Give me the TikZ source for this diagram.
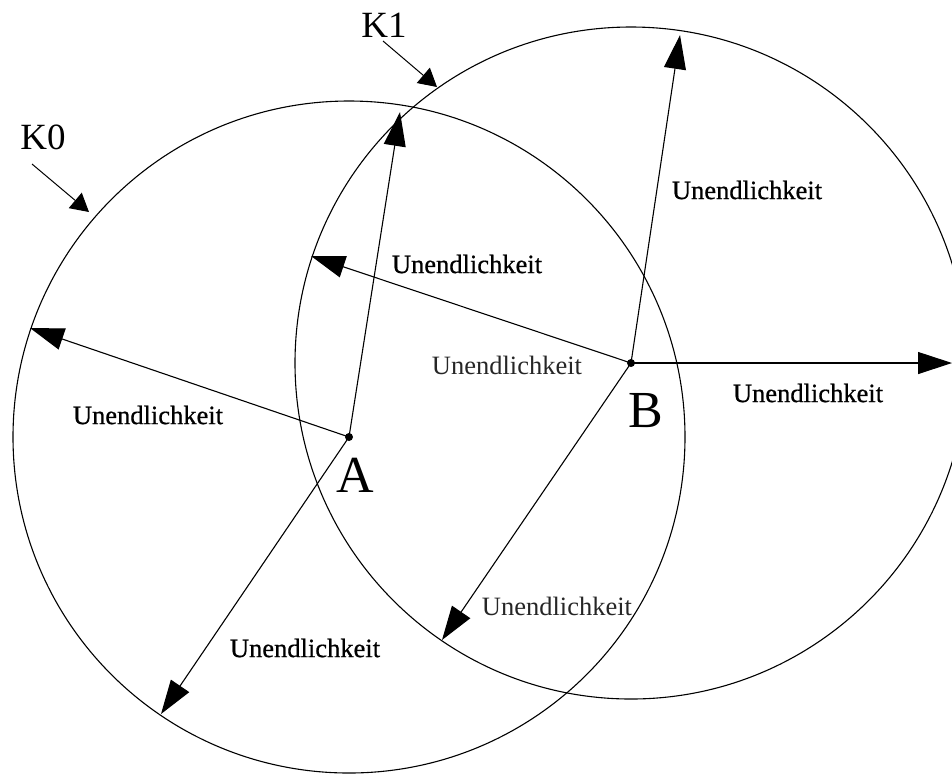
\documentclass[tikz,border=0pt]{standalone}
\usepackage{fontspec}
\setmainfont{Liberation Serif}
\newfontfamily\heavyserif[FakeBold=0.6]{Liberation Serif}
\usetikzlibrary{arrows.meta}

\tikzset{
  ray/.style={-{Triangle[length=17pt,width=11pt]}, line width=0.55pt},
  pointer/.style={-{Triangle[length=9pt,width=10pt]}, line width=0.5pt},
  rim/.style={line width=0.55pt},
  lbl/.style={font=\heavyserif\fontsize{13.25}{15}\selectfont, inner sep=0pt},
  lbllight/.style={font=\fontsize{13.25}{15}\selectfont, inner sep=0pt, text=black!85},
  big/.style={font=\fontsize{26}{30}\selectfont, inner sep=0pt},
  kname/.style={font=\fontsize{18.5}{22}\selectfont, inner sep=0pt}
}

\begin{document}
\begin{tikzpicture}[x=0.5pt,y=-0.5pt]
\useasboundingbox (0,0) rectangle (952,773);
% centres of the two circles
\coordinate (A) at (349,437);
\coordinate (B) at (631,363);
\draw[rim] (A) circle[radius=168pt];
\draw[rim] (B) circle[radius=168pt];
\fill (A) circle[radius=2pt];
\fill (B) circle[radius=2pt];
\node[big] (nA) at (355,475) {A};
\node[big] (nB) at (646,411) {B};

% ends of the rays
\coordinate (a1) at (400,112);
\coordinate (a2) at (30,328);
\coordinate (a3) at (161,714);
\coordinate (b1) at (680,35);
\coordinate (b2) at (311,256);
\coordinate (b3) at (952,363);
\coordinate (b4) at (442,640);
\foreach \t in {a1,a2,a3}
    \draw[ray] (A) -- (\t);
\foreach \t in {b1,b2,b3,b4}
    \draw[ray] (B) -- (\t);

\node[lbl] (ua2) at (148,415) {Unendlichkeit};
\node[lbl] (ua3) at (305,648) {Unendlichkeit};
\node[lbl] (ub1) at (747,190) {Unendlichkeit};
\node[lbl] (ub2) at (467,264) {Unendlichkeit};
\node[lbl] (ub3) at (808,393) {Unendlichkeit};
\node[lbllight] (ub4) at (557,606) {Unendlichkeit};
\node[lbllight] (um) at (507,365) {Unendlichkeit};

% circle names
\node[kname] (K0) at (43,137) {K0};
\node[kname] (K1) at (384,25) {K1};
\coordinate (k0) at (89,212);
\coordinate (k1) at (437,87);
\draw[pointer] (32,164) -- (k0);
\draw[pointer] (383,41) -- (k1);
\end{tikzpicture}
\end{document}
